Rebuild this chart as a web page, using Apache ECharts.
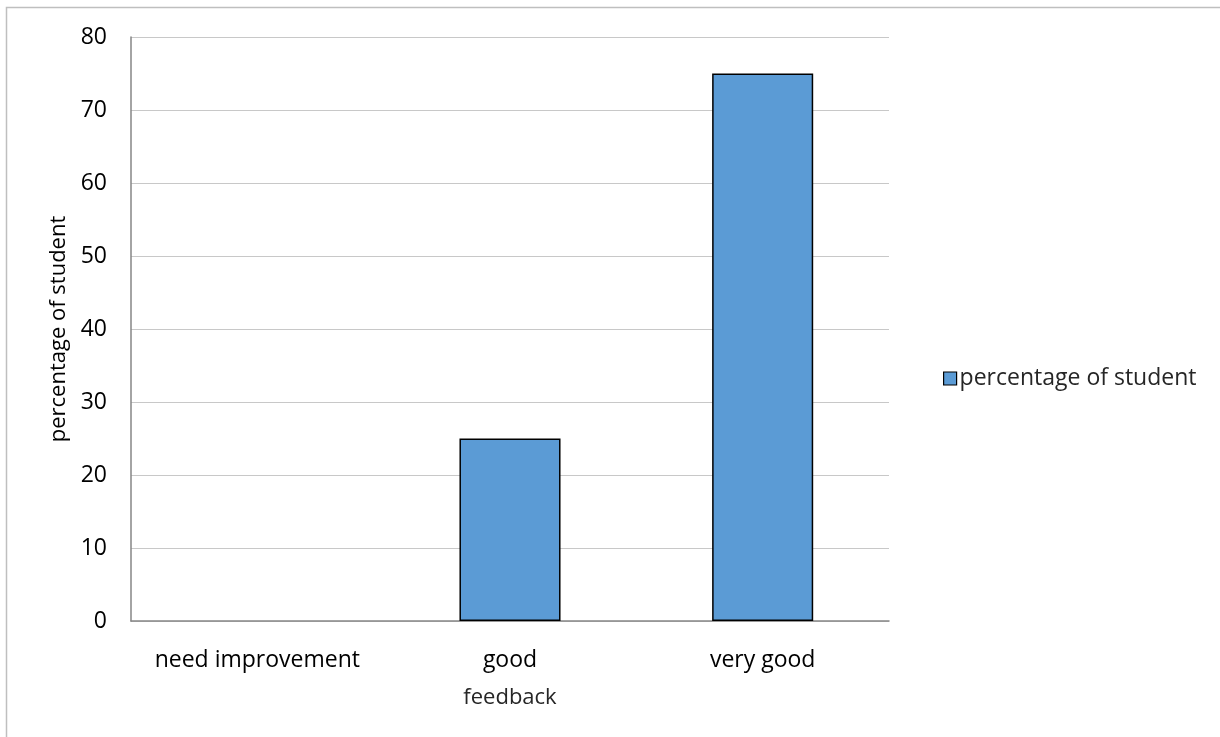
<!DOCTYPE html>
<html><head><meta charset="utf-8">
<script src="https://cdn.jsdelivr.net/npm/echarts@6/dist/echarts.min.js"></script>
<style>html,body{margin:0;padding:0;background:#fff}#c{width:1220px;height:737px}</style>
</head><body><div id="c"></div>
<script>
const categories = ["need improvement", "good", "very good"];
const values = [0, 25, 75];
const seriesName = "percentage of student";
const yTicks = [0, 10, 20, 30, 40, 50, 60, 70, 80];

const chart = echarts.init(document.getElementById('c'), null, {renderer: 'canvas'});
const font = "'Open Sans', 'Liberation Sans', sans-serif";
chart.setOption({
  animation: false,
  backgroundColor: '#fff',
  graphic: [{
    type: 'rect', shape: {x: 6.5, y: 7.5, width: 1230, height: 750},
    style: {fill: 'none', stroke: '#bfbfbf', lineWidth: 1.5}, silent: true
  }],
  grid: {left: 131, top: 37, width: 758, height: 584, containLabel: false},
  legend: {
    data: [seriesName], left: 938, top: 362, orient: 'vertical',
    itemWidth: 13, itemHeight: 13, itemGap: 4, icon: 'rect',
    textStyle: {fontFamily: font, fontSize: 23, color: '#262626', padding: [0,0,0,-2]},
    itemStyle: {borderColor: '#000', borderWidth: 1.2}
  },
  xAxis: {
    type: 'category', data: categories, name: 'feedback',
    nameLocation: 'middle', nameGap: 66,
    nameTextStyle: {fontFamily: font, fontSize: 22, color: '#262626'},
    axisLine: {lineStyle: {color: '#868686', width: 1.5}},
    axisTick: {show: false},
    axisLabel: {fontFamily: font, fontSize: 23, color: '#000', margin: 28, interval: 0, hideOverlap: false}
  },
  yAxis: {
    type: 'value', min: yTicks[0], max: yTicks[yTicks.length - 1], interval: 10,
    name: seriesName, nameLocation: 'middle', nameGap: 60, nameRotate: 90,
    nameTextStyle: {fontFamily: font, fontSize: 22, color: '#000'},
    axisLine: {show: true, lineStyle: {color: '#868686', width: 1.5}},
    axisTick: {show: false},
    splitLine: {lineStyle: {color: '#c8c8c8', width: 1}},
    axisLabel: {fontFamily: font, fontSize: 23, color: '#000', margin: 24}
  },
  series: [{
    name: seriesName, type: 'bar',
    data: values.map(v => v === 0 ? {value: v, itemStyle: {borderWidth: 0}} : v),
    barWidth: '40%',
    itemStyle: {color: '#5b9bd5', borderColor: '#000', borderWidth: 1.5}
  }]
});
</script></body></html>
